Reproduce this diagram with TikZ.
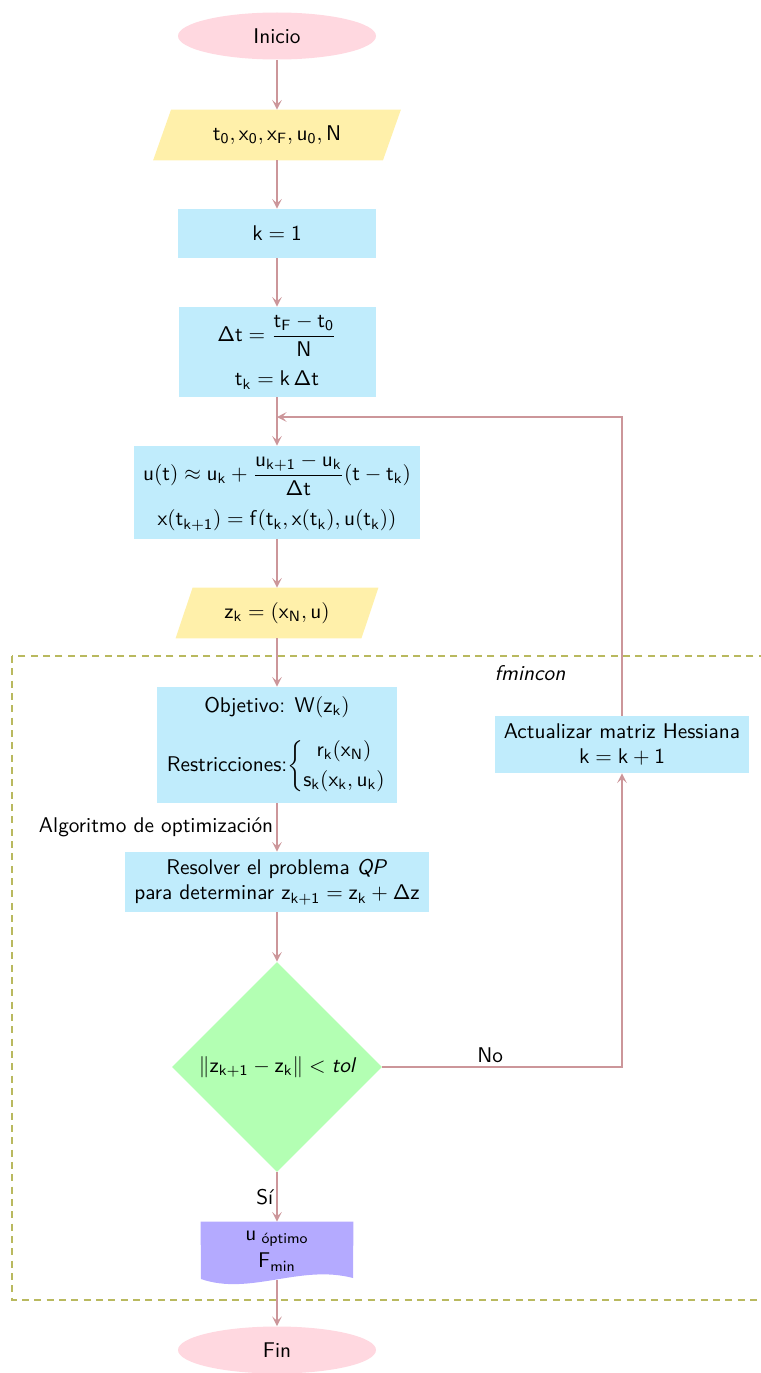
\documentclass[tikz,border=0pt]{standalone}
\usepackage{amsmath}
\usetikzlibrary{shapes.geometric,arrows.meta,backgrounds}

% one drawing unit
\newcommand{\pxu}{0.47pt}
\newcommand{\ms}[1]{\mathsf{#1}}

\definecolor{startpink}{RGB}{255,216,224}
\definecolor{ioyellow}{RGB}{255,240,170}
\definecolor{procblue}{RGB}{192,236,252}
\definecolor{decgreen}{RGB}{179,255,179}
\definecolor{docviolet}{RGB}{180,170,255}
\definecolor{linkrose}{RGB}{204,150,154}
\definecolor{frameolive}{RGB}{185,185,95}

\tikzset{
  base/.style={font=\sffamily, inner sep=0pt, align=center},
  startstop/.style={base, ellipse, fill=startpink, minimum width=198*\pxu, minimum height=47*\pxu},
  iobox/.style={base, rectangle, minimum height=50*\pxu},
  procbox/.style={base, rectangle, fill=procblue},
  decision/.style={base, diamond, shape aspect=1, fill=decgreen, minimum width=210*\pxu, minimum height=210*\pxu},
  docbox/.style={base, rectangle, minimum width=152*\pxu, minimum height=58*\pxu},
  link/.style={draw=linkrose, line width=0.6pt, -{Stealth[length=4.5pt,width=4.5pt,inset=2pt]}},
  linklabel/.style={font=\sffamily, inner sep=1.5pt},
  framebox/.style={draw=frameolive, line width=0.6pt, dash pattern=on 3.3pt off 2.5pt}
}

\begin{document}
\begin{tikzpicture}[x=\pxu, y=-\pxu]
\useasboundingbox (0,0) rectangle (761,1373);

% main column
\node[startstop] (ini) at (277,36) {Inicio};
\node[iobox, minimum width=229*\pxu] (in1) at (277,135) {$\ms{t_0, x_0, x_F, u_0, N}$};
\node[procbox, minimum width=198*\pxu, minimum height=49*\pxu] (k1) at (277,233.5) {$\ms{k = 1}$};
\node[procbox, minimum width=197*\pxu, minimum height=90*\pxu] (dt) at (277,352)
  {$\ms{\Delta t = \dfrac{t_F - t_0}{N}}$\\[6pt] $\ms{t_k = k\,\Delta t}$};
\coordinate (join) at (277,417);
\node[procbox, minimum width=286*\pxu, minimum height=93*\pxu] (model) at (277,492.5)
  {$\ms{u(t) \approx u_k + \dfrac{u_{k+1} - u_k}{\Delta t}(t - t_k)}$\\[6pt]
   $\ms{x(t_{k+1}) = f(t_k, x(t_k), u(t_k))}$};
\node[iobox, minimum width=185*\pxu] (zk) at (277,613) {$\ms{z_k = (x_N, u)}$};

% optimisation block
\node[procbox, minimum width=240*\pxu, minimum height=116*\pxu] (obj) at (277,745)
  {Objetivo: $\ms{W(z_k)}$\\[9pt]
   Restricciones:$\left\{\begin{array}{@{}c@{}}\ms{r_k(x_N)}\\[2pt] \ms{s_k(x_k, u_k)}\end{array}\right.$};
\node[procbox, minimum width=304*\pxu, minimum height=60*\pxu] (qp) at (277,882)
  {Resolver el problema \textit{QP}\\ para determinar $\ms{z_{k+1} = z_k + \Delta z}$};
\node[decision] (dec) at (277,1067) {$\|\ms{z_{k+1} - z_k}\| < \textit{tol}$};
\node[docbox] (out) at (277,1251) {$\ms{u}_{\text{ óptimo}}$\\[1pt] $\ms{F_{min}}$};
\node[procbox, minimum width=254*\pxu, minimum height=57*\pxu] (hes) at (622,744.5)
  {Actualizar matriz Hessiana\\ $\ms{k = k + 1}$};
\node[startstop] (fin) at (277,1350) {Fin};

% slanted input/output shapes and the document shape
\begin{scope}[on background layer]
  \fill[ioyellow] ([xshift=9*\pxu]in1.north west) -- ([xshift=9*\pxu]in1.north east)
    -- ([xshift=-9*\pxu]in1.south east) -- ([xshift=-9*\pxu]in1.south west) -- cycle;
  \fill[ioyellow] ([xshift=8.5*\pxu]zk.north west) -- ([xshift=8.5*\pxu]zk.north east)
    -- ([xshift=-8.5*\pxu]zk.south east) -- ([xshift=-8.5*\pxu]zk.south west) -- cycle;
  \fill[docviolet] (out.north west) -- (out.north east) -- (353,1278)
    .. controls (300,1264) and (250,1296) .. (201,1279) -- cycle;
\end{scope}

% fmincon frame
\draw[framebox] (12,656) rectangle (800,1300);
\node[font=\sffamily\itshape, inner sep=0pt] (fm) at (530,673) {fmincon};

% connectors
\draw[link] (ini) -- (in1);
\draw[link] (in1) -- (k1);
\draw[link] (k1) -- (dt);
\draw[link] (dt) -- (model);
\draw[link] (model) -- (zk);
\draw[link] (zk) -- (obj);
\draw[link] (obj) -- node[linklabel, left] {Algoritmo de optimización} (qp);
\draw[link] (qp) -- (dec);
\draw[link] (dec) -- node[linklabel, left] {Sí} (out);
\draw[link] (out.south) -- (fin);
\draw[link] (dec.east) -- node[linklabel, above, pos=0.45] {No} (dec.east -| hes.south) -- (hes.south);
\draw[link] (hes.north) |- (join);
\end{tikzpicture}
\end{document}
